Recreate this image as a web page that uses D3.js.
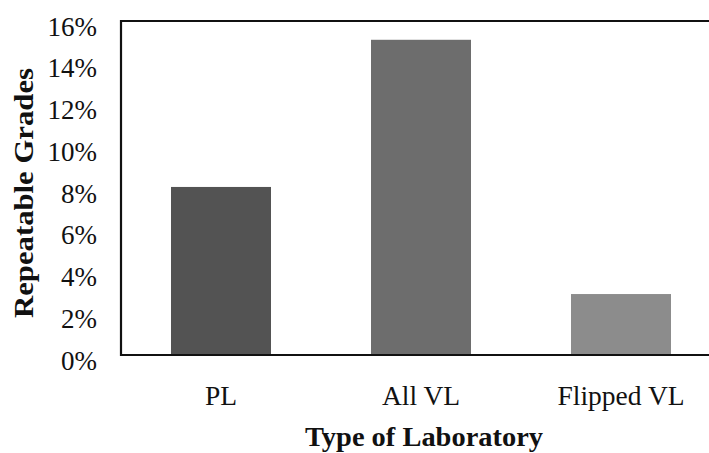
<!DOCTYPE html>
<html><head><meta charset="utf-8">
<script src="https://cdn.jsdelivr.net/npm/d3@7"></script>
<style>body{margin:0;background:#fff}svg{display:block}</style>
</head><body>
<svg id="c" width="709" height="453"></svg>
<script>
const categories = ["PL", "All VL", "Flipped VL"];
const values = [0.0805, 0.151, 0.0292];
const colors = ["#535353", "#6d6d6d", "#8c8c8c"];
const yTicks = [0, 0.02, 0.04, 0.06, 0.08, 0.10, 0.12, 0.14, 0.16];
const xTitle = "Type of Laboratory";
const yTitle = "Repeatable Grades";

const svg = d3.select("#c");
const mLeft = 121, mRight = 721, mTop = 21, mBottom = 355;
const x = d3.scaleBand().domain(categories).range([mLeft, mRight]).paddingInner(0.5).paddingOuter(0.25);
const y = d3.scaleLinear().domain([0, 0.16]).range([mBottom, mTop]);
const font = "'Liberation Serif', 'Times New Roman', serif";

svg.selectAll("rect.bar").data(categories).join("rect")
  .attr("class", "bar")
  .attr("x", d => x(d)).attr("width", x.bandwidth())
  .attr("y", (d, i) => y(values[i])).attr("height", (d, i) => y(0) - y(values[i]))
  .attr("fill", (d, i) => colors[i]);

// frame
svg.append("path").attr("d", `M${mRight},${mTop}H${mLeft}V${mBottom}H${mRight}`)
  .attr("fill", "none").attr("stroke", "#111").attr("stroke-width", 2.2);

// y axis labels
const yAxis = d3.axisLeft(y).tickValues(yTicks).tickFormat(d3.format(".0%")).tickSize(0).tickPadding(24);
const gy = svg.append("g").attr("transform", `translate(${mLeft},0)`).call(yAxis);
gy.select(".domain").remove();
gy.selectAll("text").attr("font-family", font).attr("font-size", 27).attr("fill", "#111").attr("dy", "0.52em");

// x axis labels
const xAxis = d3.axisBottom(x).tickSize(0).tickPadding(30);
const gx = svg.append("g").attr("transform", `translate(0,${mBottom})`).call(xAxis);
gx.select(".domain").remove();
gx.selectAll("text").attr("font-family", font).attr("font-size", 27.5).attr("fill", "#111");

svg.append("text").attr("x", 424).attr("y", 446).attr("text-anchor", "middle")
  .attr("font-family", font).attr("font-weight", "bold").attr("font-size", 26.5).attr("fill", "#111")
  .attr("textLength", 238).attr("lengthAdjust", "spacingAndGlyphs").text(xTitle);
svg.append("text").attr("transform", "translate(33,193) rotate(-90)").attr("text-anchor", "middle")
  .attr("font-family", font).attr("font-weight", "bold").attr("font-size", 27).attr("fill", "#111")
  .attr("textLength", 250).attr("lengthAdjust", "spacingAndGlyphs").text(yTitle);
</script>
</body></html>
